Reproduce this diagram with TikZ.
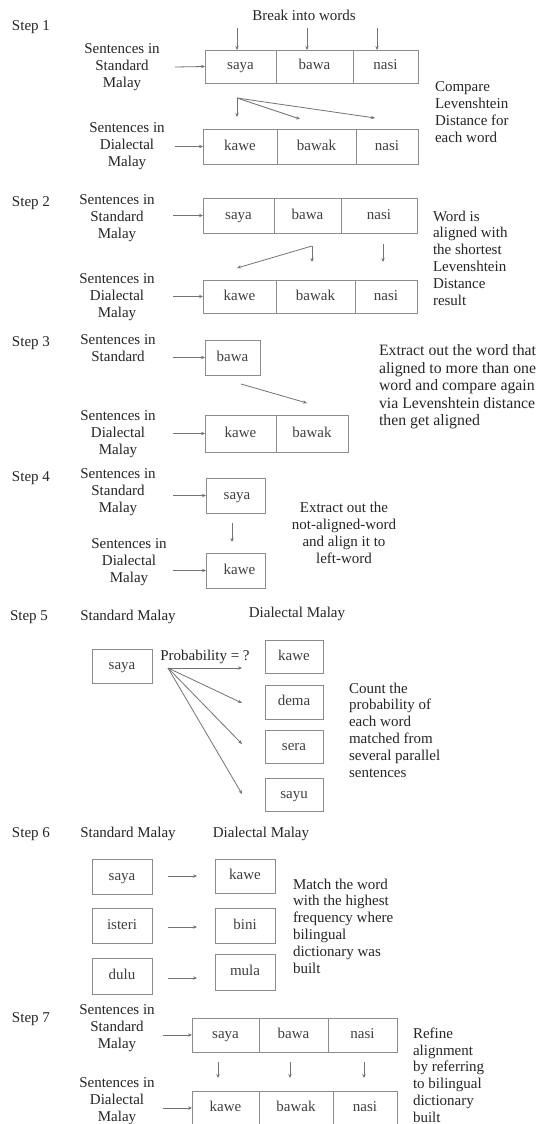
\documentclass[tikz,border=0pt]{standalone}
\usepackage{fontspec}
\setmainfont{Liberation Serif}
\usetikzlibrary{arrows.meta}
\begin{document}
\begin{tikzpicture}[x=1pt,y=-1pt,
  every node/.style={inner sep=0pt, outer sep=0pt, text=black!85},
  lbl/.style={align=center, font=\fontsize{15}{16.8}\selectfont},
  note/.style={align=left, anchor=west, font=\fontsize{15}{16.8}\selectfont},
  steplbl/.style={anchor=west, font=\fontsize{15}{16.8}\selectfont},
  cell/.style={draw=black!45, line width=0.8pt, anchor=north west, font=\fontsize{15}{16.8}\selectfont, text=black!75, text height=7pt, text depth=0pt},
  arr/.style={draw=black!55, line width=0.8pt, -{Stealth[length=4pt,width=3.4pt]}},
]
\useasboundingbox[fill=white] (0,0) rectangle (541,1124);

% ---------------- Step 1
\node[steplbl] (st1) at (12,27) {Step 1};
\node[lbl] (brk) at (304,15) {Break into words};
\node[cell, minimum width=71pt, minimum height=33pt] (s1a) at (205,50) {saya};
\node[cell, minimum width=77pt, minimum height=33pt] (s1b) at (276,50) {bawa};
\node[cell, minimum width=65pt, minimum height=33pt] (s1c) at (353,50) {nasi};
\coordinate (b1a) at (237,28);
\coordinate (b1b) at (307,28);
\coordinate (b1c) at (377,28);
\draw[arr] (b1a) -- (b1a |- s1a.north);
\draw[arr] (b1b) -- (b1b |- s1b.north);
\draw[arr] (b1c) -- (b1c |- s1c.north);
\node[lbl] (std1) at (122,67) {Sentences in\\Standard\\Malay};
\coordinate (i1a) at (175,67);
\draw[arr] (i1a) -- (s1a.west);
\node[cell, minimum width=74pt, minimum height=35pt] (d1a) at (203,129) {kawe};
\node[cell, minimum width=79pt, minimum height=35pt] (d1b) at (277,129) {bawak};
\node[cell, minimum width=62pt, minimum height=35pt] (d1c) at (356,129) {nasi};
\node[lbl] (dia1) at (127,146) {Sentences in\\Dialectal\\Malay};
\coordinate (i1b) at (175,146.5);
\draw[arr] (i1b) -- (d1a.west);
\coordinate (f1) at (237,98);
\coordinate (f1a) at (237,117);
\coordinate (f1b) at (300,119);
\coordinate (f1c) at (375,118);
\draw[arr] (f1) -- (f1a);
\draw[arr] (f1) -- (f1b);
\draw[arr] (f1) -- (f1c);
\node[note] (n1) at (435,112) {Compare\\Levenshtein\\Distance for\\each word};

% ---------------- Step 2
\node[steplbl] (st2) at (12,203) {Step 2};
\node[lbl] (std2) at (117,218) {Sentences in\\Standard\\Malay};
\node[cell, minimum width=71pt, minimum height=35pt] (s2a) at (203,198) {saya};
\node[cell, minimum width=67pt, minimum height=35pt] (s2b) at (274,198) {bawa};
\node[cell, minimum width=76pt, minimum height=35pt] (s2c) at (341,198) {nasi};
\coordinate (i2a) at (173,215.5);
\draw[arr] (i2a) -- (s2a.west);
\node[cell, minimum width=73pt, minimum height=33pt] (d2a) at (203,280) {kawe};
\node[cell, minimum width=79pt, minimum height=33pt] (d2b) at (276,280) {bawak};
\node[cell, minimum width=62pt, minimum height=33pt] (d2c) at (355,280) {nasi};
\node[lbl] (dia2) at (117,297) {Sentences in\\Dialectal\\Malay};
\coordinate (i2b) at (173,296.5);
\draw[arr] (i2b) -- (d2a.west);
\coordinate (g2) at (312,246);
\coordinate (g2a) at (237,268);
\coordinate (g2b) at (312,262);
\draw[arr] (g2) -- (g2a);
\draw[arr] (g2) -- (g2b);
\coordinate (h2) at (383,244);
\coordinate (h2a) at (383,262);
\draw[arr] (h2) -- (h2a);
\node[note] (n2) at (433,258) {Word is\\aligned with\\the shortest\\Levenshtein\\Distance\\result};

% ---------------- Step 3
\node[steplbl] (st3) at (12,343) {Step 3};
\node[lbl] (std3) at (118,348) {Sentences in\\Standard};
\node[cell, minimum width=55pt, minimum height=35pt] (s3a) at (205,340) {bawa};
\coordinate (i3a) at (173,357.5);
\draw[arr] (i3a) -- (s3a.west);
\coordinate (g3) at (241,384);
\coordinate (g3a) at (307,403);
\draw[arr] (g3) -- (g3a);
\node[cell, minimum width=71pt, minimum height=37pt] (d3a) at (205,415) {kawe};
\node[cell, minimum width=72pt, minimum height=37pt] (d3b) at (276,415) {bawak};
\node[lbl] (dia3) at (118,434) {Sentences in\\Dialectal\\Malay};
\coordinate (i3b) at (173,433.5);
\draw[arr] (i3b) -- (d3a.west);
\node[note, font=\fontsize{15.8}{17.5}\selectfont] (n3) at (379,387) {Extract out the word that\\aligned to more than one\\word and compare again\\via Levenshtein distance\\then get aligned};

% ---------------- Step 4
\node[steplbl] (st4) at (12,478) {Step 4};
\node[lbl] (std4) at (118,492) {Sentences in\\Standard\\Malay};
\node[cell, minimum width=59pt, minimum height=35pt] (s4a) at (206,478) {\hspace{3pt}saya};
\coordinate (i4a) at (173,495.5);
\draw[arr] (i4a) -- (s4a.west);
\coordinate (g4) at (232,523);
\coordinate (g4a) at (232,542);
\draw[arr] (g4) -- (g4a);
\node[cell, minimum width=59pt, minimum height=35pt] (d4a) at (206,553) {\hspace{8pt}kawe};
\node[lbl] (dia4) at (129,562) {Sentences in\\Dialectal\\Malay};
\coordinate (i4b) at (173,570.5);
\draw[arr] (i4b) -- (d4a.west);
\node[lbl] (n4) at (344,533) {Extract out the\\not-aligned-word\\and align it to\\left-word};

% ---------------- Step 5
\node[steplbl] (st5) at (10,617) {Step 5};
\node[lbl] (sm5) at (128,617) {Standard Malay};
\node[lbl] (dm5) at (297,614) {Dialectal Malay};
\node[cell, minimum width=60pt, minimum height=34pt] (s5) at (92,649) {saya};
\node[lbl] (pr5) at (205,657) {Probability = ?};
\node[cell, minimum width=58pt, minimum height=33pt] (k5) at (265,640) {kawe};
\node[cell, minimum width=58pt, minimum height=34pt] (dm5b) at (265,685) {dema};
\node[cell, minimum width=58pt, minimum height=33pt] (se5) at (265,730) {sera};
\node[cell, minimum width=58pt, minimum height=33pt] (sy5) at (265,778) {sayu};
\coordinate (f5) at (168,668);
\coordinate (f5a) at (242,668);
\coordinate (f5b) at (242,703);
\coordinate (f5c) at (242,744);
\coordinate (f5d) at (242,794);
\draw[arr] (f5) -- (f5a);
\draw[arr] (f5) -- (f5b);
\draw[arr] (f5) -- (f5c);
\draw[arr] (f5) -- (f5d);
\node[note] (n5) at (349,730) {Count the\\probability of\\each word\\matched from\\several parallel\\sentences};

% ---------------- Step 6
\node[steplbl] (st6) at (12,834) {Step 6};
\node[lbl] (sm6) at (128,834) {Standard Malay};
\node[lbl] (dm6) at (261,834) {Dialectal Malay};
\node[cell, minimum width=60pt, minimum height=35pt] (l6a) at (92,859) {saya};
\node[cell, minimum width=60pt, minimum height=35pt] (l6b) at (92,908) {isteri};
\node[cell, minimum width=60pt, minimum height=36pt] (l6c) at (92,958) {dulu};
\node[cell, minimum width=60pt, minimum height=34pt] (r6a) at (215,859) {kawe};
\node[cell, minimum width=60pt, minimum height=35pt] (r6b) at (215,908) {bini};
\node[cell, minimum width=60pt, minimum height=36pt] (r6c) at (215,954) {mula};
\coordinate (m6a) at (168,876);
\coordinate (m6b) at (168,927);
\coordinate (m6c) at (168,978);
\coordinate (e6a) at (197,876);
\coordinate (e6b) at (197,927);
\coordinate (e6c) at (197,978);
\draw[arr] (m6a) -- (e6a);
\draw[arr] (m6b) -- (e6b);
\draw[arr] (m6c) -- (e6c);
\node[note] (n6) at (293,926) {Match the word\\with the highest\\frequency where\\bilingual\\dictionary was\\built};

% ---------------- Step 7
\node[steplbl] (st7) at (12,1019) {Step 7};
\node[lbl] (std7) at (117,1028) {Sentences in\\Standard\\Malay};
\node[cell, minimum width=67pt, minimum height=34pt] (s7a) at (192,1018) {saya};
\node[cell, minimum width=69pt, minimum height=34pt] (s7b) at (259,1018) {bawa};
\node[cell, minimum width=69pt, minimum height=34pt] (s7c) at (328,1018) {nasi};
\coordinate (i7a) at (163,1035);
\draw[arr] (i7a) -- (s7a.west);
\coordinate (v7a) at (218,1062);
\coordinate (v7b) at (290,1062);
\coordinate (v7c) at (364,1062);
\coordinate (w7a) at (218,1078);
\coordinate (w7b) at (290,1078);
\coordinate (w7c) at (364,1078);
\draw[arr] (v7a) -- (w7a);
\draw[arr] (v7b) -- (w7b);
\draw[arr] (v7c) -- (w7c);
\node[cell, minimum width=67pt, minimum height=34pt] (d7a) at (192,1091) {kawe};
\node[cell, minimum width=74pt, minimum height=34pt] (d7b) at (259,1091) {bawak};
\node[cell, minimum width=64pt, minimum height=34pt] (d7c) at (333,1091) {nasi};
\node[lbl] (dia7) at (117,1101) {Sentences in\\Dialectal\\Malay};
\coordinate (i7b) at (163,1108);
\draw[arr] (i7b) -- (d7a.west);
\node[note] (n7) at (413,1075) {Refine\\alignment\\by referring\\to bilingual\\dictionary\\built};
\end{tikzpicture}
\end{document}
